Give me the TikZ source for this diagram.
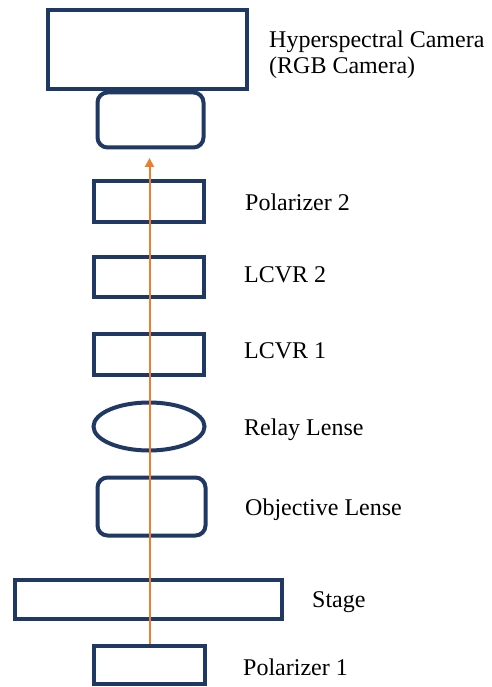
\documentclass[tikz,border=0pt]{standalone}
\usepackage{fontspec}
\setmainfont{Liberation Serif}
\usetikzlibrary{shapes.geometric,arrows.meta}
\definecolor{navy}{HTML}{1F3864}
\definecolor{beam}{HTML}{ED7D31}
\begin{document}
\begin{tikzpicture}[x=1pt,y=-1pt,
  part/.style={draw=navy,line width=4pt,inner sep=0pt,fill=white},
  boxpart/.style={part,rectangle},
  roundpart/.style={part,rectangle,rounded corners=10pt},
  lenspart/.style={part,ellipse},
  label/.style={anchor=base west,inner sep=0pt,font=\fontsize{24}{27}\selectfont,text=black},
  beamarrow/.style={draw=beam,line width=2pt,-{Triangle[length=9pt,width=9pt]}}
]
\useasboundingbox (0,0) rectangle (491,687);
\fill[white] (0,0) rectangle (491,687);
\node[boxpart,minimum width=199pt,minimum height=79pt] (cam) at (147,50) {};
\node[roundpart,minimum width=106pt,minimum height=55pt] (lens) at (150.5,120) {};
\node[boxpart,minimum width=110pt,minimum height=41pt] (pol2) at (148.5,201) {};
\node[boxpart,minimum width=110pt,minimum height=40pt] (lcvr2) at (148.5,276.5) {};
\node[boxpart,minimum width=110pt,minimum height=41pt] (lcvr1) at (148.5,354) {};
\node[lenspart,minimum width=111pt,minimum height=48pt] (relay) at (149,426.5) {};
\node[roundpart,minimum width=108pt,minimum height=58pt] (obj) at (151.5,506.5) {};
\node[boxpart,minimum width=267pt,minimum height=39pt] (stage) at (148,599) {};
\node[boxpart,minimum width=111pt,minimum height=38pt] (pol1) at (149.5,664.5) {};
\coordinate (tip) at (149.5,158);
\draw[beamarrow] (pol1.north) -- (tip);
\node[label] (camlab) at (269,48) {Hyperspectral Camera};
\node[label] (camlab2) at (269,74) {(RGB Camera)};
\node[label] (pol2lab) at (245,210) {Polarizer 2};
\node[label] (lcvr2lab) at (244,282) {LCVR 2};
\node[label] (lcvr1lab) at (244,358) {LCVR 1};
\node[label] (relaylab) at (244,435) {Relay Lense};
\node[label] (objlab) at (245,515) {Objective Lense};
\node[label] (stagelab) at (312,607) {Stage};
\node[label] (pol1lab) at (243,675) {Polarizer 1};
\end{tikzpicture}
\end{document}
